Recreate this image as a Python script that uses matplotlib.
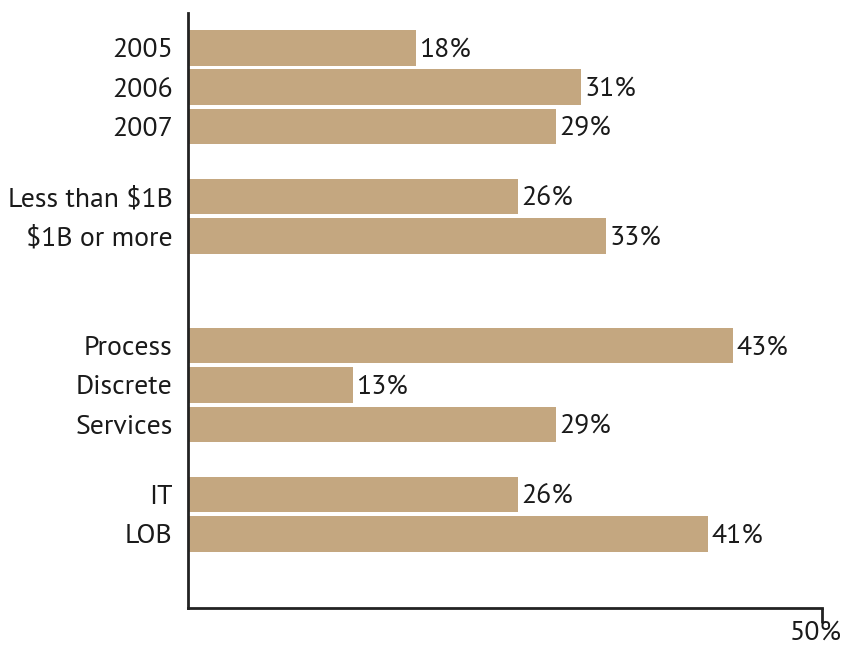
import matplotlib
matplotlib.use("Agg")
import matplotlib.pyplot as plt
import matplotlib.transforms as mtransforms

categories = ["2005", "2006", "2007",
              "Less than $1B", "$1B or more",
              "Process", "Discrete", "Services",
              "IT", "LOB"]
values = [18, 31, 29, 26, 33, 43, 13, 29, 26, 41]
# vertical slots: groups separated by extra space
positions = [0, 1, 2, 3.8, 4.8, 7.6, 8.6, 9.6, 11.4, 12.4]

bar_color = "#C4A780"
text_color = "#1a1a1a"
font = ["PT Sans", "Source Sans 3", "DejaVu Sans"]
fsize = 20

fig = plt.figure(figsize=(8.46, 6.48), dpi=100)
ax = fig.add_axes([188 / 846, 1 - 608 / 648, (822 - 188) / 846, (608 - 13) / 648])

ax.barh(positions, values, height=0.9, color=bar_color, edgecolor="none")

for p, v in zip(positions, values):
    ax.text(v + 0.25, p + 0.05, f"{v}%", va="center", ha="left",
            fontsize=fsize, color=text_color, family=font)

ax.set_xlim(0, 50)
ax.set_ylim(14.29, -0.89)

ax.set_yticks(positions)
ax.set_yticklabels(categories, fontsize=fsize, color=text_color, family=font)
ax.tick_params(axis="y", length=0, pad=11)

ax.set_xticks([50])
ax.set_xticklabels(["50%"], fontsize=fsize, color=text_color, family=font)
ax.tick_params(axis="x", direction="out", length=11, width=2, color="#222222", pad=-2)
shift = mtransforms.ScaledTranslation(-6 / 100, 0, fig.dpi_scale_trans)
for lbl in ax.get_xticklabels():
    lbl.set_transform(lbl.get_transform() + shift)

for side in ("top", "right"):
    ax.spines[side].set_visible(False)
for side in ("left", "bottom"):
    ax.spines[side].set_linewidth(2)
    ax.spines[side].set_color("#222222")

fig.savefig("out.png", dpi=100)
